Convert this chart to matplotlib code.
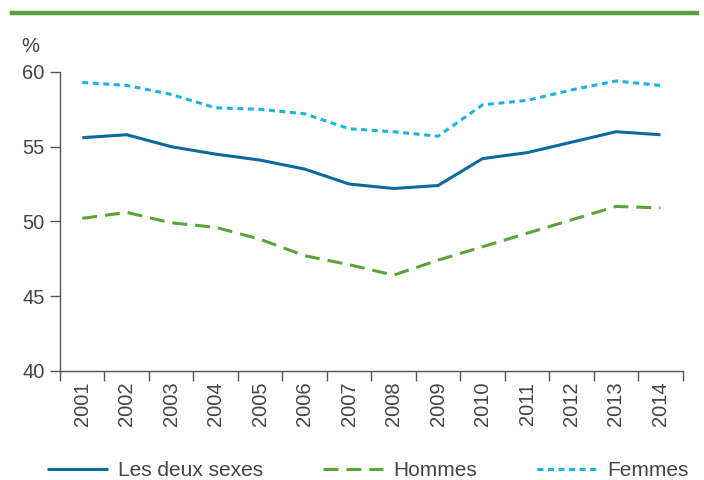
import numpy as np
import matplotlib
matplotlib.use("Agg")
import matplotlib.pyplot as plt
from matplotlib.lines import Line2D

plt.rcParams['font.family'] = ['Liberation Sans', 'DejaVu Sans']

years = ['2001', '2002', '2003', '2004', '2005', '2006', '2007',
         '2008', '2009', '2010', '2011', '2012', '2013', '2014']
deux_sexes = [55.6, 55.8, 55.0, 54.5, 54.1, 53.5, 52.5, 52.2, 52.4, 54.2, 54.6, 55.3, 56.0, 55.8]
hommes = [50.2, 50.6, 49.9, 49.6, 48.8, 47.7, 47.1, 46.4, 47.4, 48.3, 49.2, 50.1, 51.0, 50.9]
femmes = [59.3, 59.1, 58.5, 57.6, 57.5, 57.2, 56.2, 56.0, 55.7, 57.8, 58.1, 58.8, 59.4, 59.1]

c_blue = '#0b6a9c'
c_green = '#5ba43a'
c_cyan = '#18b4e6'
c_text = '#444444'
c_axis = '#555555'

fig = plt.figure(figsize=(7.04, 4.8), dpi=100)
ax = fig.add_axes([60 / 704, 1 - 370.7 / 480, 622.7 / 704, 298.7 / 480])

x = np.arange(len(years))
l1, = ax.plot(x, deux_sexes, color=c_blue, lw=2.2, solid_capstyle='butt', label='Les deux sexes')
l2, = ax.plot(x, hommes, color=c_green, lw=2.2, dashes=(4.9, 2.6), dash_capstyle='butt', label='Hommes')
l3, = ax.plot(x, femmes, color=c_cyan, lw=2.2, dashes=(1.95, 1.5), dash_capstyle='butt', label='Femmes')

ax.set_xlim(-0.5, len(years) - 0.5)
ax.set_ylim(40, 60)
ax.set_yticks([40, 45, 50, 55, 60])

# category axis: ticks between categories, labels centred on them
ax.set_xticks(np.arange(-0.5, len(years), 1.0))
ax.set_xticklabels([])
ax.set_xticks(x, minor=True)
ax.set_xticklabels(years, minor=True, rotation=90, fontsize=14.5, color=c_text)
ax.tick_params(axis='x', which='minor', length=0, pad=8)
ax.tick_params(axis='x', which='major', length=7, width=1, color=c_axis, direction='out')
ax.tick_params(axis='y', length=7, width=1, color=c_axis, labelsize=14.5, labelcolor=c_text, pad=4)

for s in ['top', 'right']:
    ax.spines[s].set_visible(False)
for s in ['left', 'bottom']:
    ax.spines[s].set_color(c_axis)
    ax.spines[s].set_linewidth(1)

fig.text(30 / 704, 1 - 47 / 480, '%', ha='center', va='center', fontsize=14.5, color=c_text)

# green rule across the top
fig.add_artist(Line2D([12 / 704, 697 / 704], [1 - 12.5 / 480] * 2, color='#5c9f3a', lw=3.2,
                      transform=fig.transFigure))

fig.legend(handles=[l1, l2, l3], loc='center', bbox_to_anchor=(368 / 704, 1 - 471 / 480),
           ncol=3, frameon=False, fontsize=15, handlelength=2.9, handletextpad=0.5,
           columnspacing=2.85, labelcolor=c_text)

fig.savefig('out.png', dpi=100)
